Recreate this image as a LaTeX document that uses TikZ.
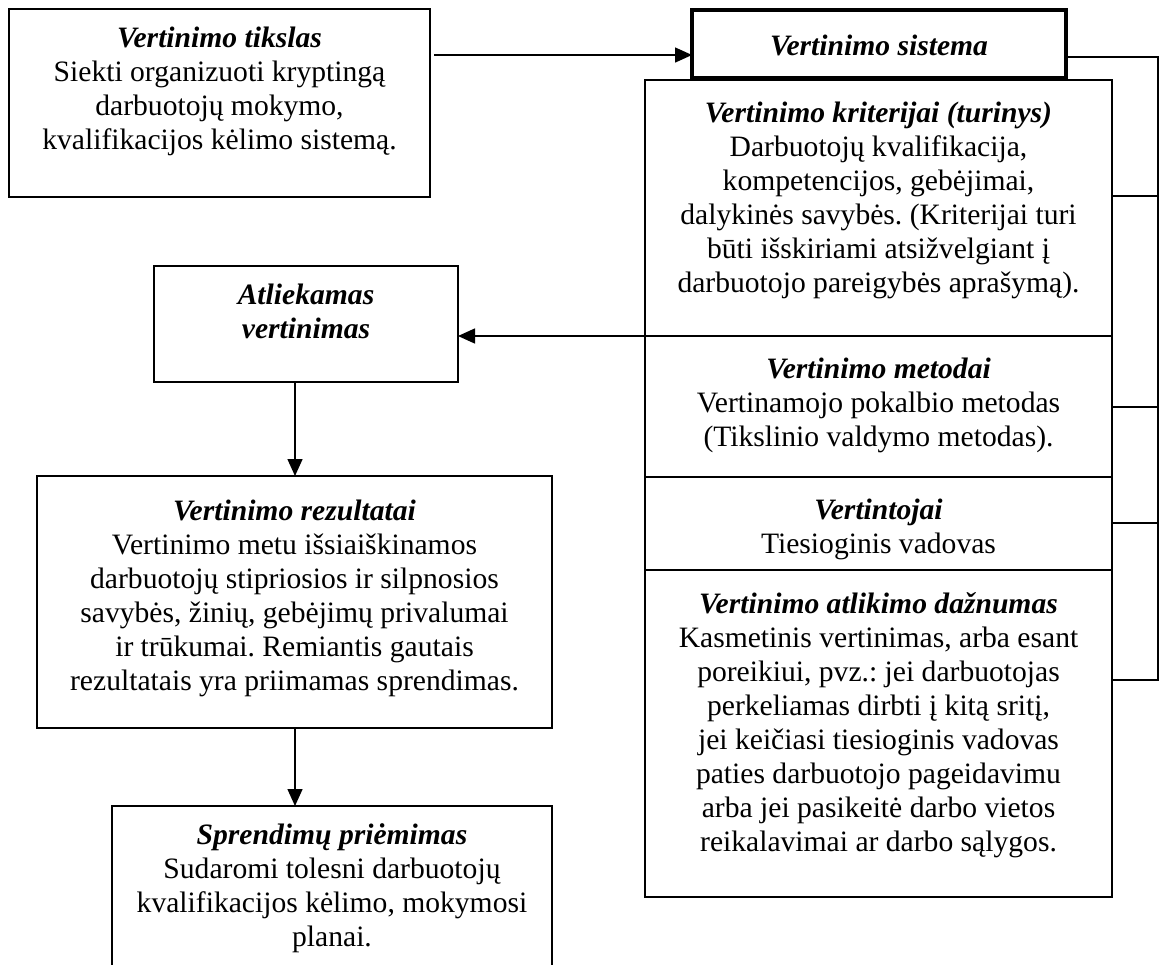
\documentclass[tikz,border=0pt]{standalone}
\usepackage{fontspec}
\setmainfont{Liberation Serif}
\usetikzlibrary{arrows.meta,calc}
\newcommand\hd[1]{\textbf{\textit{#1}}}
\frenchspacing
\begin{document}
\begin{tikzpicture}[x=1pt,y=-1pt,
  frame/.style={draw,line width=1.5pt,inner sep=0pt,outer sep=0pt,anchor=north west},
  heavy/.style={frame,line width=3.5pt},
  txt/.style={font=\fontsize{29.6}{34}\selectfont,align=center,inner sep=0pt,anchor=north},
  link/.style={line width=1.5pt},
  arr/.style={link,-{Triangle[length=17pt,width=15pt]}}]
\useasboundingbox (0,0) rectangle (1164,964);
\clip (0,0) rectangle (1164,964);

% left column boxes
\node[frame,minimum width=421pt,minimum height=188pt] (tikslasbox) at (9,9) {};
\node[txt] (tikslas) at (219.5,23) {\strut\hd{Vertinimo tikslas}\\Siekti organizuoti kryptingą\\darbuotojų mokymo,\\kvalifikacijos kėlimo sistemą.};

\node[frame,minimum width=304pt,minimum height=116pt] (atliekamasbox) at (154,266) {};
\node[txt] (atliekamas) at (306,280) {\strut\hd{Atliekamas}\\\hd{vertinimas}};

\node[frame,minimum width=515pt,minimum height=252pt] (rezultataibox) at (37,476) {};
\node[txt] (rezultatai) at (294.5,496) {\strut\hd{Vertinimo rezultatai}\\Vertinimo metu išsiaiškinamos\\darbuotojų stipriosios ir silpnosios\\savybės, žinių, gebėjimų privalumai\\ir trūkumai. Remiantis gautais\\rezultatais yra priimamas sprendimas.};

\node[frame,minimum width=440pt,minimum height=184pt] (sprendimaibox) at (112,806) {};
\node[txt] (sprendimai) at (332,820) {\strut\hd{Sprendimų priėmimas}\\Sudaromi tolesni darbuotojų\\kvalifikacijos kėlimo, mokymosi\\planai.};

% evaluation system: header and stacked parts
\node[heavy,minimum width=374pt,minimum height=68pt] (sistemabox) at (692,10) {};
\node[txt] (sistema) at (879,31) {\strut\hd{Vertinimo sistema}};

\node[frame,minimum width=467pt,minimum height=256pt] (kriterijaibox) at (645,80) {};
\node[txt] (kriterijai) at (878.5,98) {\strut\hd{Vertinimo kriterijai (turinys)}\\Darbuotojų kvalifikacija,\\kompetencijos, gebėjimai,\\dalykinės savybės. (Kriterijai turi\\būti išskiriami atsižvelgiant į\\darbuotojo pareigybės aprašymą).};

\node[frame,minimum width=467pt,minimum height=141pt] (metodaibox) at (645,336) {};
\node[txt] (metodai) at (878.5,354) {\strut\hd{Vertinimo metodai}\\Vertinamojo pokalbio metodas\\(Tikslinio valdymo metodas).};

\node[frame,minimum width=467pt,minimum height=93pt] (vertintojaibox) at (645,477) {};
\node[txt] (vertintojai) at (878.5,495) {\strut\hd{Vertintojai}\\Tiesioginis vadovas};

\node[frame,minimum width=467pt,minimum height=327pt] (daznumasbox) at (645,570) {};
\node[txt] (daznumas) at (878.5,589) {\strut\hd{Vertinimo atlikimo dažnumas}\\Kasmetinis vertinimas, arba esant\\poreikiui, pvz.: jei darbuotojas\\perkeliamas dirbti į kitą sritį,\\jei keičiasi tiesioginis vadovas\\paties darbuotojo pageidavimu\\arba jei pasikeitė darbo vietos\\reikalavimai ar darbo sąlygos.};

% connectors
\draw[arr] ([xshift=4pt]tikslasbox.east |- 0,55) -- (sistemabox.west |- 0,55);
\draw[arr] (metodaibox.north west) -- (atliekamasbox.east |- metodaibox.north west);
\draw[arr] (295,0 |- atliekamasbox.south) -- (295,0 |- rezultataibox.north);
\draw[arr] (295,0 |- rezultataibox.south) -- (295,0 |- sprendimaibox.north);

% bracket joining the parts of the system
\coordinate (rail) at (1158,0);
\draw[link] (sistemabox.east |- 0,57) -| (rail |- 0,680) -- (daznumasbox.east |- 0,680);
\draw[link] (kriterijaibox.east |- 0,196) -- (rail |- 0,196);
\draw[link] (metodaibox.east |- 0,407) -- (rail |- 0,407);
\draw[link] (vertintojaibox.east |- 0,523) -- (rail |- 0,523);
\end{tikzpicture}
\end{document}
